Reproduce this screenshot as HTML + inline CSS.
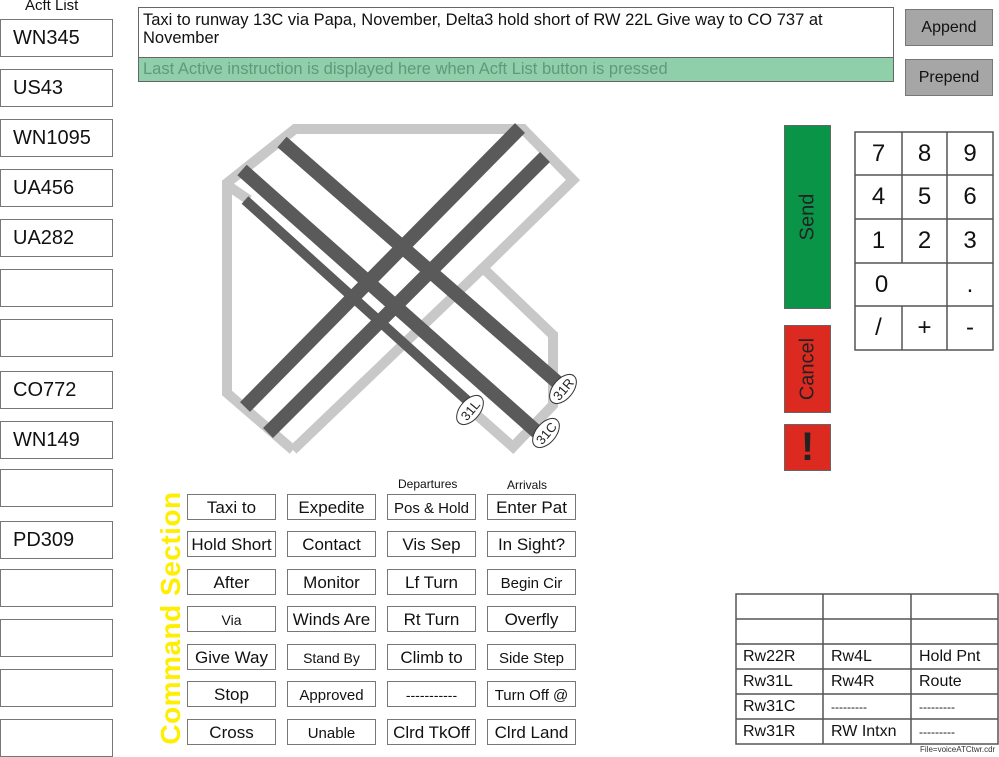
<!DOCTYPE html>
<html><head><meta charset="utf-8"><style>
*{margin:0;padding:0;box-sizing:border-box}
body{width:999px;height:756px;position:relative;background:#fff;font-family:"Liberation Sans",sans-serif;overflow:hidden;color:#111}
.a{position:absolute}
.bx{position:absolute;border:1.5px solid #777;background:#fff;display:flex;align-items:center}
.ac{left:0;width:113px;height:38px;font-size:20px;padding-left:12px}
.cb{width:89px;height:26px;justify-content:center;font-size:17px;white-space:nowrap;padding-top:2px}
.kp{position:absolute;display:flex;align-items:center;justify-content:center;font-size:24px}
.tc{position:absolute;font-size:16px;padding-left:6px;display:flex;align-items:center;height:25px}
</style></head><body>
<div class="a" style="left:25px;top:-3px;font-size:15px">Acft List</div>
<div class="bx ac" style="top:19px">WN345</div>
<div class="bx ac" style="top:69px">US43</div>
<div class="bx ac" style="top:119px">WN1095</div>
<div class="bx ac" style="top:169px">UA456</div>
<div class="bx ac" style="top:219px">UA282</div>
<div class="bx ac" style="top:269px"></div>
<div class="bx ac" style="top:319px"></div>
<div class="bx ac" style="top:371px">CO772</div>
<div class="bx ac" style="top:421px">WN149</div>
<div class="bx ac" style="top:469px"></div>
<div class="bx ac" style="top:521px">PD309</div>
<div class="bx ac" style="top:569px"></div>
<div class="bx ac" style="top:619px"></div>
<div class="bx ac" style="top:669px"></div>
<div class="bx ac" style="top:719px"></div>

<div class="a" style="left:138px;top:7px;width:756px;height:51px;border:1.5px solid #666;font-size:16.5px;line-height:18px;padding:3px 60px 3px 4px">Taxi to runway 13C via Papa, November, Delta3 hold short of RW 22L Give way to CO 737 at November</div>
<div class="a" style="left:138px;top:57px;width:756px;height:25px;border:1.5px solid #666;background:#8fcfa9;color:#5e9a7c;font-size:16.5px;padding:2px 4px">Last Active instruction is displayed here when Acft List button is pressed</div>
<div class="a" style="left:905px;top:9px;width:88px;height:37px;background:#a6a6a6;border:1.5px solid #777;font-size:16px;display:flex;align-items:center;justify-content:center">Append</div>
<div class="a" style="left:905px;top:59px;width:88px;height:37px;background:#a6a6a6;border:1.5px solid #777;font-size:16px;display:flex;align-items:center;justify-content:center">Prepend</div>

<div class="a" style="left:784px;top:125px;width:47px;height:184px;background:#0a9447;border:1px solid #666"><div class="a" style="left:50%;top:50%;transform:translate(-50%,-50%) rotate(-90deg);font-size:20px;color:#222">Send</div></div>
<div class="a" style="left:784px;top:325px;width:47px;height:88px;background:#dd2a21;border:1px solid #666"><div class="a" style="left:50%;top:50%;transform:translate(-50%,-50%) rotate(-90deg);font-size:20px;color:#222">Cancel</div></div>
<div class="a" style="left:784px;top:424px;width:47px;height:47px;background:#dd2a21;border:1px solid #666;display:flex;align-items:center;justify-content:center;font-size:40px;font-weight:bold;color:#222">!</div>

<svg class="a" style="left:0;top:0" width="999" height="756">
<g fill="none" stroke="#c8c8c8" stroke-width="10" stroke-linejoin="miter">
<polyline points="293,450 227,393 227,183 295,129 523,129 573,180 483,268 553,335 553,405 513,447 478,416"/>
<line x1="227" y1="185" x2="249" y2="200"/>
<line x1="483" y1="268" x2="293" y2="450"/>
</g>
<g stroke="#5a5a5a" stroke-linecap="butt">
<line x1="245" y1="200" x2="470" y2="403" stroke-width="10"/>
<line x1="242" y1="170" x2="537" y2="432" stroke-width="14"/>
<line x1="282" y1="142" x2="557" y2="382" stroke-width="14"/>
<line x1="520" y1="128" x2="245" y2="407" stroke-width="14"/>
<line x1="545" y1="157" x2="268" y2="433" stroke-width="14"/>
</g>
<g font-family="Liberation Sans" font-size="13" fill="#222">
<g transform="translate(470,410) rotate(-50)"><ellipse rx="17" ry="10" fill="#fff" stroke="#333"/><text text-anchor="middle" y="5">31L</text></g>
<g transform="translate(546,433) rotate(-50)"><ellipse rx="17" ry="10" fill="#fff" stroke="#333"/><text text-anchor="middle" y="5">31C</text></g>
<g transform="translate(563,389) rotate(-50)"><ellipse rx="17" ry="10" fill="#fff" stroke="#333"/><text text-anchor="middle" y="5">31R</text></g>
</g>
<g stroke="#555" stroke-width="1.5" fill="none">
<rect x="855" y="132" width="138" height="218" fill="#fff"/>
<line x1="855" y1="175" x2="993" y2="175"/><line x1="855" y1="219" x2="993" y2="219"/>
<line x1="855" y1="263" x2="993" y2="263"/><line x1="855" y1="306" x2="993" y2="306"/>
<line x1="902" y1="132" x2="902" y2="263"/><line x1="902" y1="306" x2="902" y2="350"/>
<line x1="947" y1="132" x2="947" y2="350"/>
<rect x="736" y="594" width="262" height="150"/>
<line x1="736" y1="619" x2="998" y2="619"/><line x1="736" y1="644" x2="998" y2="644"/>
<line x1="736" y1="669" x2="998" y2="669"/><line x1="736" y1="694" x2="998" y2="694"/>
<line x1="736" y1="719" x2="998" y2="719"/>
<line x1="823" y1="594" x2="823" y2="744"/><line x1="911" y1="594" x2="911" y2="744"/>
</g>
</svg>

<div class="kp" style="left:855px;top:132px;width:47px;height:43px">7</div>
<div class="kp" style="left:902px;top:132px;width:45px;height:43px">8</div>
<div class="kp" style="left:947px;top:132px;width:46px;height:43px">9</div>
<div class="kp" style="left:855px;top:175px;width:47px;height:44px">4</div>
<div class="kp" style="left:902px;top:175px;width:45px;height:44px">5</div>
<div class="kp" style="left:947px;top:175px;width:46px;height:44px">6</div>
<div class="kp" style="left:855px;top:219px;width:47px;height:44px">1</div>
<div class="kp" style="left:902px;top:219px;width:45px;height:44px">2</div>
<div class="kp" style="left:947px;top:219px;width:46px;height:44px">3</div>
<div class="kp" style="left:855px;top:263px;width:53px;height:43px">0</div>
<div class="kp" style="left:947px;top:263px;width:46px;height:43px">.</div>
<div class="kp" style="left:855px;top:306px;width:47px;height:44px">/</div>
<div class="kp" style="left:902px;top:306px;width:45px;height:44px">+</div>
<div class="kp" style="left:947px;top:306px;width:46px;height:44px">-</div>

<div class="a" style="left:171px;top:618px;transform:translate(-50%,-50%) rotate(-90deg);font-size:28px;font-weight:bold;color:#ffee00;white-space:nowrap;letter-spacing:0.5px">Command Section</div>
<div class="a" style="left:398px;top:477px;font-size:12px">Departures</div>
<div class="a" style="left:507px;top:478px;font-size:12px">Arrivals</div>

<div class="bx cb" style="left:187px;top:494px">Taxi to</div>
<div class="bx cb" style="left:287px;top:494px">Expedite</div>
<div class="bx cb" style="left:387px;top:494px;font-size:15px">Pos &amp; Hold</div>
<div class="bx cb" style="left:487px;top:494px">Enter Pat</div>
<div class="bx cb" style="left:187px;top:531px">Hold Short</div>
<div class="bx cb" style="left:287px;top:531px">Contact</div>
<div class="bx cb" style="left:387px;top:531px">Vis Sep</div>
<div class="bx cb" style="left:487px;top:531px">In Sight?</div>
<div class="bx cb" style="left:187px;top:569px">After</div>
<div class="bx cb" style="left:287px;top:569px">Monitor</div>
<div class="bx cb" style="left:387px;top:569px">Lf Turn</div>
<div class="bx cb" style="left:487px;top:569px;font-size:15px">Begin Cir</div>
<div class="bx cb" style="left:187px;top:606px;font-size:14px">Via</div>
<div class="bx cb" style="left:287px;top:606px">Winds Are</div>
<div class="bx cb" style="left:387px;top:606px">Rt Turn</div>
<div class="bx cb" style="left:487px;top:606px">Overfly</div>
<div class="bx cb" style="left:187px;top:644px">Give Way</div>
<div class="bx cb" style="left:287px;top:644px;font-size:14px">Stand By</div>
<div class="bx cb" style="left:387px;top:644px">Climb to</div>
<div class="bx cb" style="left:487px;top:644px;font-size:15px">Side Step</div>
<div class="bx cb" style="left:187px;top:681px">Stop</div>
<div class="bx cb" style="left:287px;top:681px;font-size:15px">Approved</div>
<div class="bx cb" style="left:387px;top:681px;font-size:14px">-----------</div>
<div class="bx cb" style="left:487px;top:681px;font-size:15px">Turn Off @</div>
<div class="bx cb" style="left:187px;top:719px">Cross</div>
<div class="bx cb" style="left:287px;top:719px;font-size:15px">Unable</div>
<div class="bx cb" style="left:387px;top:719px">Clrd TkOff</div>
<div class="bx cb" style="left:487px;top:719px">Clrd Land</div>

<div class="tc" style="left:737px;top:644px">Rw22R</div>
<div class="tc" style="left:825px;top:644px">Rw4L</div>
<div class="tc" style="left:913px;top:644px">Hold Pnt</div>
<div class="tc" style="left:737px;top:669px">Rw31L</div>
<div class="tc" style="left:825px;top:669px">Rw4R</div>
<div class="tc" style="left:913px;top:669px">Route</div>
<div class="tc" style="left:737px;top:694px">Rw31C</div>
<div class="tc" style="left:825px;top:694px;font-size:12px">---------</div>
<div class="tc" style="left:913px;top:694px;font-size:12px">---------</div>
<div class="tc" style="left:737px;top:719px">Rw31R</div>
<div class="tc" style="left:825px;top:719px">RW Intxn</div>
<div class="tc" style="left:913px;top:719px;font-size:12px">---------</div>
<div class="a" style="left:920px;top:745px;font-size:8px;color:#333">File=voiceATCtwr.cdr</div>
</body></html>
